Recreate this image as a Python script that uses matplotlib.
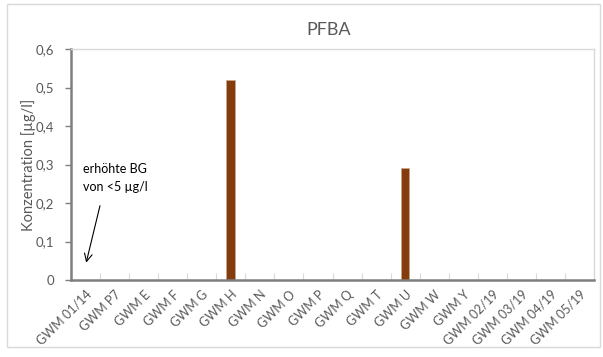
import matplotlib.pyplot as plt
from matplotlib.patches import Rectangle

# PFBA concentrations per well
stations = ['GWM 01/14', 'GWM P7', 'GWM E', 'GWM F', 'GWM G', 'GWM H', 'GWM N',
            'GWM O', 'GWM P', 'GWM Q', 'GWM T', 'GWM U', 'GWM W', 'GWM Y',
            'GWM 02/19', 'GWM 03/19', 'GWM 04/19', 'GWM 05/19']
pfba = [0, 0, 0, 0, 0, 0.52, 0, 0, 0, 0, 0, 0.29, 0, 0, 0, 0, 0, 0]
yticks = [0, 0.1, 0.2, 0.3, 0.4, 0.5, 0.6]
ylabels = ['0', '0,1', '0,2', '0,3', '0,4', '0,5', '0,6']

plt.rcParams['font.family'] = ['Lato', 'DejaVu Sans']
txt = '#595959'

fig = plt.figure(figsize=(6.03, 3.57), dpi=100)
fig.patches.append(Rectangle((7 / 603, 10 / 357), 593 / 603, 343 / 357,
                             transform=fig.transFigure, fill=False,
                             edgecolor='#d9d9d9', linewidth=1))
ax = fig.add_axes([71 / 603, 77 / 357, 523 / 603, 231 / 357])

x = list(range(len(stations)))
ax.bar(x, pfba, width=0.3, color='#843c0c', edgecolor='#c9a58c', linewidth=0.6)

ax.set_xlim(-0.5, len(stations) - 0.5)
ax.set_ylim(0, 0.6)
ax.set_yticks(yticks)
ax.set_yticklabels(ylabels)
ax.set_xticks(x)
ax.set_xticklabels(stations, rotation=45, ha='right', rotation_mode='anchor')
ax.tick_params(axis='x', length=0, pad=6, labelsize=9, labelcolor=txt)
ax.tick_params(axis='y', length=4, width=1, color='#7f7f7f', pad=8,
               labelsize=9.5, labelcolor=txt)

# small category separators on the x axis
ax.set_xticks([i - 0.5 for i in range(1, len(stations))], minor=True)
ax.tick_params(axis='x', which='minor', direction='in', length=5,
               width=0.8, color='#d9d9d9')

for s in ['left', 'bottom']:
    ax.spines[s].set_color('#7f7f7f')
    ax.spines[s].set_linewidth(1.8)
for s in ['top', 'right']:
    ax.spines[s].set_color('#d9d9d9')
    ax.spines[s].set_linewidth(1)

ax.set_ylabel('Konzentration [µg/l]', fontsize=10.5, color=txt, labelpad=0)
fig.text(0.545, 0.915, 'PFBA', ha='center', va='center', fontsize=13, color=txt)

ax.text(-0.09, 0.265, 'erhöhte BG\nvon <5 µg/l', fontsize=9, color='black',
        ha='left', va='center', linespacing=1.6)
ax.annotate('', xy=(0.0, 0.038), xytext=(0.52, 0.2),
            arrowprops=dict(arrowstyle='->', color='black', lw=0.8,
                            mutation_scale=14))

fig.savefig('out.png', dpi=100)
